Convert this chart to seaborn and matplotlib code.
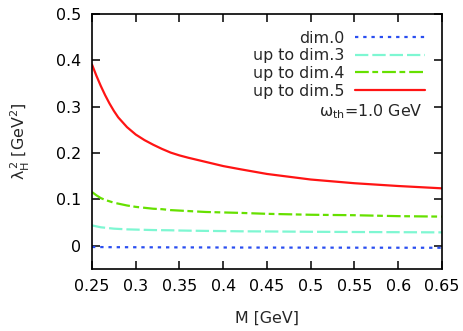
import numpy as np
import pandas as pd
import matplotlib
matplotlib.use("Agg")
import matplotlib.pyplot as plt
import seaborn as sns

# ---- data ----
M = [0.25, 0.255, 0.26, 0.265, 0.27, 0.275, 0.28, 0.29, 0.30, 0.31, 0.32, 0.33,
     0.34, 0.35, 0.36, 0.38, 0.40, 0.42, 0.45, 0.50, 0.55, 0.60, 0.65]
dim0 = [-0.0025, -0.0026, -0.0027, -0.0028, -0.0029, -0.003, -0.003, -0.003, -0.0031, -0.0032, -0.0032, -0.0033,
        -0.0033, -0.0034, -0.0034, -0.0035, -0.0036, -0.0037, -0.0038, -0.0039, -0.004, -0.0041, -0.0042]
dim3 = [0.044, 0.042, 0.040, 0.039, 0.038, 0.037, 0.0365, 0.0355, 0.035, 0.0345, 0.034, 0.0337,
        0.0335, 0.033, 0.0327, 0.0322, 0.0318, 0.0313, 0.031, 0.0303, 0.0298, 0.0294, 0.029]
dim4 = [0.116, 0.109, 0.103, 0.099, 0.096, 0.093, 0.091, 0.087, 0.084, 0.082, 0.080, 0.079,
        0.077, 0.076, 0.075, 0.073, 0.072, 0.071, 0.069, 0.067, 0.066, 0.064, 0.063]
dim5 = [0.391, 0.367, 0.345, 0.325, 0.307, 0.291, 0.277, 0.256, 0.240, 0.228, 0.218, 0.209,
        0.201, 0.195, 0.190, 0.181, 0.172, 0.165, 0.155, 0.143, 0.135, 0.129, 0.124]
series_names = ["dim.0", "up to dim.3", "up to dim.4", "up to dim.5"]
x_ticks = [0.25, 0.3, 0.35, 0.4, 0.45, 0.5, 0.55, 0.6, 0.65]
y_ticks = [0, 0.1, 0.2, 0.3, 0.4, 0.5]
x_label = "M [GeV]"
y_label = r"$\mathrm{\lambda_H^{\,2}}$ [GeV$^2$]"
note = r"$\mathrm{\omega_{th}}$=1.0 GeV"

sns.set_theme(style="ticks")
plt.rcParams["font.family"] = ["DejaVu Sans"]
plt.rcParams["mathtext.fontset"] = "dejavusans"

fs = 11.4
fig = plt.figure(figsize=(4.63, 3.31), dpi=100)
ax = fig.add_axes([0.1987, 0.1873, 0.9546 - 0.1987, 0.9577 - 0.1873])

df = pd.DataFrame({
    "M": M * 4,
    "val": dim0 + dim3 + dim4 + dim5,
    "series": sum([[n] * len(M) for n in series_names], []),
})
colors = {"dim.0": "#2a4ef0", "up to dim.3": "#7ef7d2",
          "up to dim.4": "#66e000", "up to dim.5": "#ff1414"}
dashes = {"dim.0": (1.5, 2.2), "up to dim.3": (6.0, 1.8),
          "up to dim.4": (6.2, 1.6, 2.6, 1.8), "up to dim.5": ""}
sns.lineplot(data=df, x="M", y="val", hue="series", style="series",
             palette=colors, dashes=dashes, linewidth=1.6, ax=ax, legend=True)

ax.set_xlim(0.25, 0.65)
ax.set_ylim(-0.05, 0.5)
ax.set_xticks(x_ticks)
ax.set_xticklabels([f"{t:g}" for t in x_ticks])
ax.set_yticks(y_ticks)
ax.set_yticklabels([f"{t:g}" for t in y_ticks])
ax.tick_params(direction="in", length=6, width=1.1, top=True, right=True,
               labelsize=fs, colors="black")
ax.tick_params(axis="x", pad=7)
ax.tick_params(axis="y", pad=8)
for s in ax.spines.values():
    s.set_linewidth(1.2)
    s.set_color("black")
ax.set_xlabel(x_label, fontsize=fs, labelpad=12)
ax.set_ylabel(y_label, fontsize=fs, labelpad=17)

handles, labels = ax.get_legend_handles_labels()
leg = ax.legend(handles, labels, loc="upper right", bbox_to_anchor=(0.951, 0.935),
                frameon=False, markerfirst=False, fontsize=fs,
                handlelength=4.4, handletextpad=0.7, labelspacing=0.17,
                borderpad=0, borderaxespad=0)
ax.text(0.946, 0.616, note, transform=ax.transAxes, ha="right", va="center",
        fontsize=fs)

fig.savefig("out.png", dpi=100)
